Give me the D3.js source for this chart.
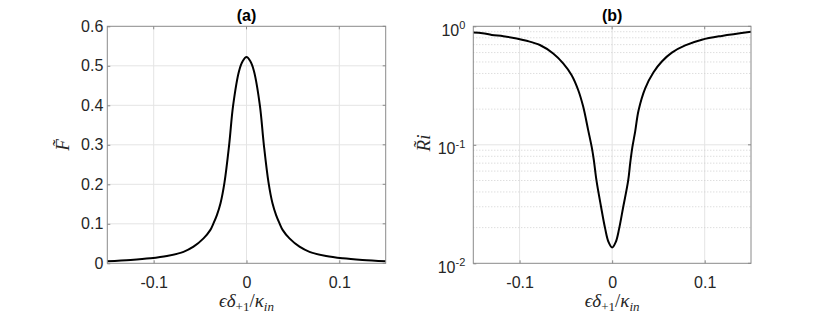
<!DOCTYPE html>
<html>
<head>
<meta charset="utf-8">
<script src="https://cdn.jsdelivr.net/npm/d3@7"></script>
<style>
  body { margin: 0; background: #fff; }
  svg { display: block; }
  .tick text { font-family: "Liberation Sans", Helvetica, Arial, sans-serif; font-size: 16px; fill: #262626; }
  .lbl { font-family: "Liberation Serif", "Times New Roman", serif; font-style: italic; fill: #262626; }
</style>
</head>
<body>
<script>
// (a) F~ versus detuning
var fX = [-0.15, -0.125, -0.1038, -0.0858, -0.0679, -0.0571, -0.0463, -0.0391, -0.0356, -0.0319, -0.028,
          -0.0237, -0.0187, -0.0144, -0.008, -0.004, 0,
          0.004, 0.008, 0.0144, 0.0187, 0.0237, 0.028, 0.0319, 0.0356, 0.0391, 0.0463, 0.0571,
          0.0679, 0.0858, 0.1038, 0.125, 0.15];
var fY = [0.005, 0.0085, 0.0127, 0.0185, 0.029, 0.042, 0.063, 0.084, 0.101, 0.122, 0.152,
          0.205, 0.3, 0.4, 0.487, 0.512, 0.522,
          0.512, 0.487, 0.4, 0.3, 0.205, 0.152, 0.122, 0.101, 0.084, 0.063, 0.042,
          0.029, 0.0185, 0.0127, 0.0085, 0.005];

// (b) Ri~ versus detuning (log axis)
var rX = [-0.15, -0.14, -0.13, -0.1176, -0.1032, -0.0924, -0.0781, -0.0637, -0.0529, -0.0439, -0.0367, -0.0313,
          -0.0259, -0.022, -0.0198, -0.0169, -0.012, -0.0076, -0.004, 0, 0.004, 0.0076, 0.012, 0.0173, 0.0195,
          0.0218, 0.0249, 0.0285, 0.0357, 0.0447, 0.0537, 0.0645, 0.0789, 0.0969, 0.1185, 0.15];
var rY = [0.885, 0.875, 0.845, 0.825, 0.79, 0.755, 0.695, 0.59, 0.487, 0.388, 0.29, 0.21,
          0.133, 0.095, 0.0744, 0.0498, 0.030, 0.0197, 0.0152, 0.0136, 0.0152, 0.0197, 0.030, 0.0498, 0.07,
          0.095, 0.13, 0.195, 0.30, 0.41, 0.505, 0.60, 0.69, 0.77, 0.83, 0.9];

var xTicks = [-0.1, 0, 0.1];
var xTickLabels = ["-0.1", "0", "0.1"];
var fTicks = [0, 0.1, 0.2, 0.3, 0.4, 0.5, 0.6];
var rTicks = [0.01, 0.1, 1];
var rTickExp = ["-2", "-1", "0"];
var titles = ["(a)", "(b)"];

var W = 830, H = 319;
var top_ = 26.3, bottom = 263.3;
var axColor = "#8a8a8a";

var svg = d3.select("body").append("svg")
    .attr("width", W)
    .attr("height", H);

svg.append("rect").attr("width", W).attr("height", H).attr("fill", "#fff");

// scales
var xa = d3.scaleLinear().domain([-0.15, 0.15]).range([107.3, 385.7]);
var ya = d3.scaleLinear().domain([0, 0.6]).range([bottom, top_]);
var xb = d3.scaleLinear().domain([-0.15, 0.15]).range([473.3, 751]);
var yb = d3.scaleLog().domain([0.01, 1]).range([bottom, top_]);

function panel(x, y, opts) {
  var g = svg.append("g");
  var x0 = x.range()[0], x1 = x.range()[1];

  // vertical grid
  g.selectAll(".vg").data(xTicks).enter().append("line")
      .attr("x1", function(d) { return x(d); }).attr("x2", function(d) { return x(d); })
      .attr("y1", top_).attr("y2", bottom)
      .attr("stroke", "#e4e4e4").attr("stroke-width", 1);

  // horizontal grid
  g.selectAll(".hg").data(opts.grid).enter().append("line")
      .attr("x1", x0).attr("x2", x1)
      .attr("y1", function(d) { return y(d); }).attr("y2", function(d) { return y(d); })
      .attr("stroke", "#e4e4e4").attr("stroke-width", 1);

  if (opts.minor) {
    g.selectAll(".mg").data(opts.minor).enter().append("line")
        .attr("x1", x0).attr("x2", x1)
        .attr("y1", function(d) { return y(d); }).attr("y2", function(d) { return y(d); })
        .attr("stroke", "#cfcfcf").attr("stroke-width", 1)
        .attr("stroke-dasharray", "1,2");
  }

  // curve
  var line = d3.line()
      .x(function(d) { return x(d[0]); })
      .y(function(d) { return y(d[1]); })
      .curve(d3.curveCatmullRom.alpha(0.5));
  g.append("path")
      .datum(d3.zip(opts.xs, opts.ys))
      .attr("d", line)
      .attr("fill", "none")
      .attr("stroke", "#000")
      .attr("stroke-width", 2)
      .attr("stroke-linejoin", "round");

  // box
  g.append("rect")
      .attr("x", x0).attr("y", top_)
      .attr("width", x1 - x0).attr("height", bottom - top_)
      .attr("fill", "none").attr("stroke", axColor).attr("stroke-width", 1);

  // x axis
  var xAxis = g.append("g")
      .attr("transform", "translate(0," + bottom + ")")
      .call(d3.axisBottom(x).tickValues(xTicks)
            .tickFormat(function(d, i) { return xTickLabels[i]; })
            .tickSize(-3).tickPadding(13));
  xAxis.select(".domain").remove();
  xAxis.selectAll("line").attr("stroke", axColor);
  xAxis.selectAll("text").attr("dy", "0.71em");

  // top ticks
  g.selectAll(".tt").data(xTicks).enter().append("line")
      .attr("x1", function(d) { return x(d); }).attr("x2", function(d) { return x(d); })
      .attr("y1", top_).attr("y2", top_ + 3)
      .attr("stroke", axColor);

  // y axis
  var yAxis = g.append("g")
      .attr("transform", "translate(" + x0 + ",0)")
      .call(d3.axisLeft(y).tickValues(opts.yTicks)
            .tickFormat(opts.yFormat)
            .tickSize(-3).tickPadding(opts.yPad));
  yAxis.select(".domain").remove();
  yAxis.selectAll("line").attr("stroke", axColor);
  if (opts.exp) {
    yAxis.selectAll(".tick text").each(function(d, i) {
      var t = d3.select(this).text("");
      t.attr("dy", "0.55em");
      t.append("tspan").text("10");
      t.append("tspan").attr("dy", "-0.6em").attr("font-size", "11px").text(opts.exp[i]);
    });
  }

  // right ticks
  g.selectAll(".rt").data(opts.yTicks).enter().append("line")
      .attr("x1", x1 - 3).attr("x2", x1)
      .attr("y1", function(d) { return y(d); }).attr("y2", function(d) { return y(d); })
      .attr("stroke", axColor);

  // title
  g.append("text")
      .attr("x", (x0 + x1) / 2).attr("y", 21)
      .attr("text-anchor", "middle")
      .style("font-family", "Liberation Sans, Helvetica, Arial, sans-serif")
      .style("font-weight", "bold").style("font-size", "16px")
      .attr("fill", "#000")
      .text(opts.title);

  // x label
  var xl = g.append("text")
      .attr("class", "lbl")
      .attr("x", (x0 + x1) / 2).attr("y", 307)
      .attr("text-anchor", "middle")
      .style("font-size", "19px");
  xl.append("tspan").text("ϵδ");
  xl.append("tspan").attr("dy", "4").style("font-size", "13px").style("font-style", "normal").text("+1");
  xl.append("tspan").attr("dy", "-4").style("font-style", "normal").text("/");
  xl.append("tspan").text("κ");
  xl.append("tspan").attr("dy", "4").style("font-size", "13px").text("in");

  // y label
  g.append("text")
      .attr("class", "lbl")
      .attr("transform", "translate(" + opts.ylx + "," + opts.yly + ") rotate(-90)")
      .attr("text-anchor", "middle")
      .style("font-size", "19px")
      .text(opts.ylabel);
}

panel(xa, ya, {
  xs: fX, ys: fY,
  grid: fTicks.slice(1, 6),
  yTicks: fTicks,
  yFormat: function(d) { return d3.format("")(d); },
  yPad: 4,
  title: titles[0],
  ylabel: "F\u0303",
  ylx: 69, yly: 145
});

var minorB = [];
[0.01, 0.1].forEach(function(dec) {
  for (var k = 2; k <= 9; k++) minorB.push(dec * k);
});

panel(xb, yb, {
  xs: rX, ys: rY,
  grid: [0.1],
  minor: minorB,
  yTicks: rTicks,
  yFormat: function(d) { return ""; },
  yPad: 8,
  exp: rTickExp,
  title: titles[1],
  ylabel: "R\u0303i",
  ylx: 430, yly: 143
});
</script>
</body>
</html>
